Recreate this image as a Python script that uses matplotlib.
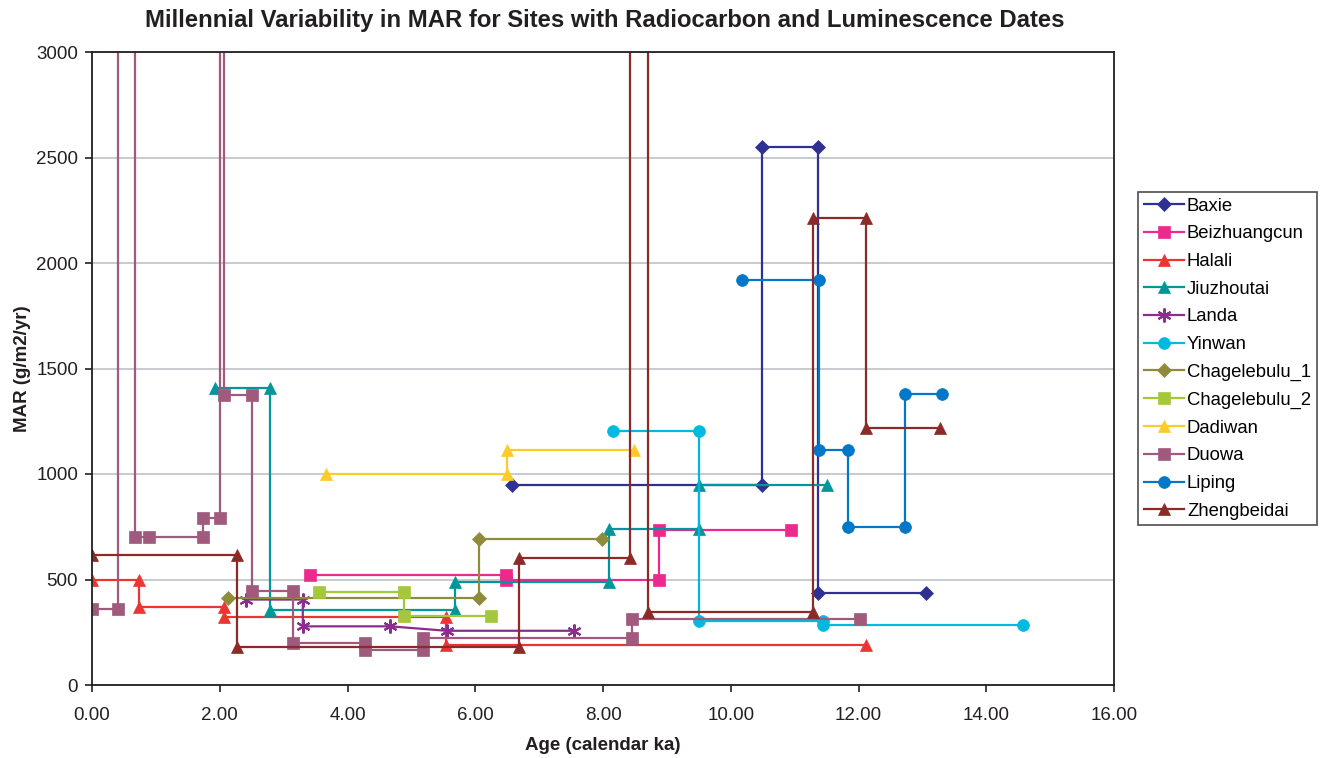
import matplotlib
matplotlib.use("Agg")
import matplotlib.pyplot as plt
from matplotlib.ticker import FormatStrFormatter, MultipleLocator

plt.rcParams['font.family'] = ['Liberation Sans', 'DejaVu Sans']

# site data: age (ka) and MAR (g/m2/yr), stepwise
baxie_x = [6.58, 10.49, 10.49, 11.37, 11.37, 13.05]
baxie_y = [948, 948, 2550, 2550, 438, 438]

beizh_x = [3.42, 6.48, 6.48, 8.88, 8.88, 10.95]
beizh_y = [521, 521, 500, 500, 735, 735]

halali_x = [0.0, 0.74, 0.74, 2.06, 2.06, 5.54, 5.54, 12.12]
halali_y = [497, 497, 368, 368, 324, 324, 190, 190]

jiuz_x = [1.93, 2.78, 2.78, 5.68, 5.68, 8.10, 8.10, 9.50, 9.50, 11.51]
jiuz_y = [1408, 1408, 355, 355, 490, 490, 737, 737, 948, 948]

landa_x = [2.41, 3.30, 3.30, 4.67, 5.55, 7.55]
landa_y = [405, 405, 278, 278, 257, 257]

yinwan_x = [8.15, 9.51, 9.51, 11.45, 11.45, 14.57]
yinwan_y = [1205, 1205, 305, 305, 284, 284]

chag1_x = [2.13, 6.06, 6.06, 7.98]
chag1_y = [411, 411, 692, 692]

chag2_x = [3.56, 4.89, 4.89, 6.24]
chag2_y = [442, 442, 329, 329]

dadiwan_x = [3.67, 6.49, 6.49, 8.48]
dadiwan_y = [998, 998, 1114, 1114]

duowa_x = [0.0, 0.41, 0.41, 0.67, 0.67, 0.89, 1.73, 1.73, 2.01, 2.01, 2.07, 2.07, 2.50, 2.50,
           3.15, 3.15, 4.28, 4.28, 5.18, 5.18, 8.45, 8.45, 12.02]
duowa_y = [358, 358, 9000, 9000, 703, 703, 703, 793, 793, 9000, 9000, 1376, 1376, 447,
           447, 198, 198, 166, 166, 224, 224, 311, 311]

liping_x = [10.18, 11.38, 11.38, 11.84, 11.84, 12.73, 12.73, 13.31]
liping_y = [1918, 1918, 1114, 1114, 747, 747, 1378, 1378]

zheng_x = [0.0, 2.27, 2.27, 6.69, 6.69, 8.42, 8.42, 8.71, 8.71, 11.28, 11.28, 12.11, 12.11, 13.27]
zheng_y = [616, 616, 182, 182, 600, 600, 9000, 9000, 344, 344, 2213, 2213, 1220, 1220]

series = [
    ("Baxie", baxie_x, baxie_y, "#2E3192", "D", 7),
    ("Beizhuangcun", beizh_x, beizh_y, "#EC2A8E", "s", 8.5),
    ("Halali", halali_x, halali_y, "#EE3333", "^", 9),
    ("Jiuzhoutai", jiuz_x, jiuz_y, "#00969A", "^", 9),
    ("Landa", landa_x, landa_y, "#8B2D8E", (6, 2, 0), 10),
    ("Yinwan", yinwan_x, yinwan_y, "#00B9E0", "o", 8.5),
    ("Chagelebulu_1", chag1_x, chag1_y, "#8E8C3B", "D", 7),
    ("Chagelebulu_2", chag2_x, chag2_y, "#A5C83B", "s", 8.5),
    ("Dadiwan", dadiwan_x, dadiwan_y, "#FFCB2B", "^", 9),
    ("Duowa", duowa_x, duowa_y, "#A05A7E", "s", 8.5),
    ("Liping", liping_x, liping_y, "#0077C8", "o", 8.5),
    ("Zhengbeidai", zheng_x, zheng_y, "#8B2A26", "^", 9),
]

fig = plt.figure(figsize=(13.24, 7.58), dpi=100)
ax = fig.add_axes([92/1324, 73/758, 1022/1324, 633/758])

for name, xs, ys, col, mk, ms in series:
    ax.plot(xs, ys, color=col, lw=1.6, marker=mk, markersize=ms,
            markerfacecolor=col, markeredgecolor=col, markeredgewidth=1.5 if mk == (6, 2, 0) else 0.5,
            label=name, clip_on=True)

ax.set_xlim(0, 16)
ax.set_ylim(0, 3000)
ax.xaxis.set_major_locator(MultipleLocator(2))
ax.yaxis.set_major_locator(MultipleLocator(500))
ax.xaxis.set_major_formatter(FormatStrFormatter('%.2f'))
ax.yaxis.grid(True, color='#C3C7CB', lw=1.3)
ax.set_axisbelow(True)
for s in ax.spines.values():
    s.set_color('#231F20')
    s.set_linewidth(1.3)
ax.tick_params(direction='out', length=5, width=1.2, colors='#231F20', labelsize=13.5,
               labelcolor='#231F20')
ax.tick_params(axis='x', pad=11)
ax.tick_params(axis='y', pad=5)

ax.set_xlabel("Age (calendar ka)", fontsize=13.5, fontweight='bold', labelpad=9, color='#231F20')
ax.set_ylabel("MAR (g/m2/yr)", fontsize=13.5, fontweight='bold', labelpad=4, color='#231F20')
fig.text(605/1324, 1 - 21/758, "Millennial Variability in MAR for Sites with Radiocarbon and Luminescence Dates",
         ha='center', va='center', fontsize=17.2, fontweight='bold', color='#231F20')

leg = fig.legend(loc='upper left', bbox_to_anchor=(1138/1324, 1 - 192/758), fontsize=13.3,
                 frameon=True, fancybox=False, edgecolor='#231F20', borderaxespad=0,
                 handlelength=2.2, labelspacing=0.58, handletextpad=0.15, borderpad=0.3)
leg.get_frame().set_linewidth(1.2)

fig.savefig("out.png", dpi=100)
